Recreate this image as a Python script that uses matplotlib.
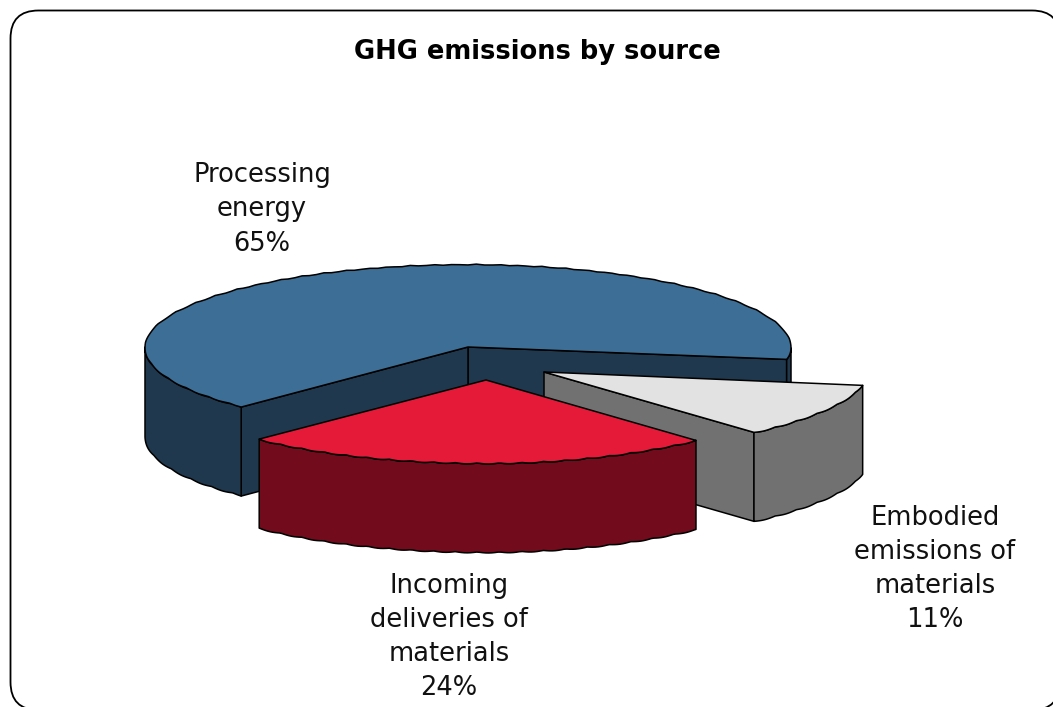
import numpy as np
import matplotlib
matplotlib.use("Agg")
import matplotlib.pyplot as plt
from matplotlib.patches import Polygon, FancyBboxPatch

# Data
sources = ["Processing\nenergy", "Incoming\ndeliveries of\nmaterials", "Embodied\nemissions of\nmaterials"]
shares = [65, 24, 11]
top_colors = ["#3D6F96", "#E51A38", "#E2E2E2"]
side_colors = ["#1F384D", "#720C1C", "#717171"]

# Projection of the tilted disc, in pixels
RX, RY, DEPTH = 323, 83, 89
START_DEG = -8.6
apexes = [(468, 347), (486, 380), (544, 372)]
label_xy = [(262, 209.5), (449, 637), (935, 569)]

W, H = 1053, 707
fig = plt.figure(figsize=(W / 100, H / 100), dpi=100)
ax = fig.add_axes([0, 0, 1, 1])
ax.set_xlim(0, W)
ax.set_ylim(H, 0)
ax.axis("off")
fig.patch.set_facecolor("white")

ax.add_patch(FancyBboxPatch((10.5, 10.5), 1049.5, 699.5, boxstyle="round,pad=0,rounding_size=28",
                            fc="white", ec="black", lw=1.3, zorder=1))


def rim(apex, a0, a1, n=160):
    t = np.radians(np.linspace(a0, a1, n))
    # The front-right quadrant of the disc renders slightly pulled in
    q = (np.cos(t) > 0) & (np.sin(t) < 0)
    k = np.where(q, 1 - 0.025 * np.sin(2 * t) ** 2, 1.0)
    return np.column_stack([apex[0] + k * RX * np.cos(t), apex[1] - k * RY * np.sin(t)])


def scallop(pts):
    # Small ripple along the rim
    d = np.r_[0, np.cumsum(np.hypot(*np.diff(pts, axis=0).T))]
    out = pts.copy()
    out[:, 1] += 1.0 * np.abs(np.sin(d / 7.0))
    return out


def draw_slice(i, a0, a1, z):
    apex = np.array(apexes[i], float)
    kw = dict(ec="black", lw=1.1, joinstyle="round")
    down = np.array([0, DEPTH])
    edge = scallop(rim(apex, a0, a1))

    # Flat cut faces, only those turned towards the viewer
    if np.cos(np.radians(a0)) > 0:
        p = edge[0]
        ax.add_patch(Polygon([apex, p, p + down, apex + down], fc=side_colors[i], zorder=z, **kw))
    if np.cos(np.radians(a1)) < 0:
        p = edge[-1]
        ax.add_patch(Polygon([apex, p, p + down, apex + down], fc=side_colors[i], zorder=z, **kw))

    # Outer wall: the parts of the rim on the viewer's side (sin < 0)
    spans = [(max(a0, 180), min(a1, 360)), (a0, min(a1, 0))]
    for lo, hi in spans:
        if hi > lo:
            wall = scallop(rim(apex, lo, hi))
            ax.add_patch(Polygon(np.vstack([wall, (wall + down)[::-1]]), fc=side_colors[i], zorder=z + 0.1, **kw))

    ax.add_patch(Polygon(np.vstack([apex, edge]), fc=top_colors[i], zorder=z + 0.2, **kw))


angles = np.cumsum([0] + [s * 3.6 for s in shares]) + START_DEG
# Back to front: large slice, then the small one, then the front one
for z, i in enumerate([0, 2, 1]):
    draw_slice(i, angles[i], angles[i + 1], 2 + z)

# Labels and title
font = "DejaVu Sans"
for name, share, (x, y) in zip(sources, shares, label_xy):
    ax.text(x, y, f"{name}\n{share}%", ha="center", va="center", fontsize=18.5,
            family=font, linespacing=1.41, color="#111111", zorder=10)
ax.text(537, 52, "GHG emissions by source", ha="center", va="center", fontsize=18.5,
        fontweight="bold", family=font, color="black", zorder=10)

fig.savefig("out.png", dpi=100)
